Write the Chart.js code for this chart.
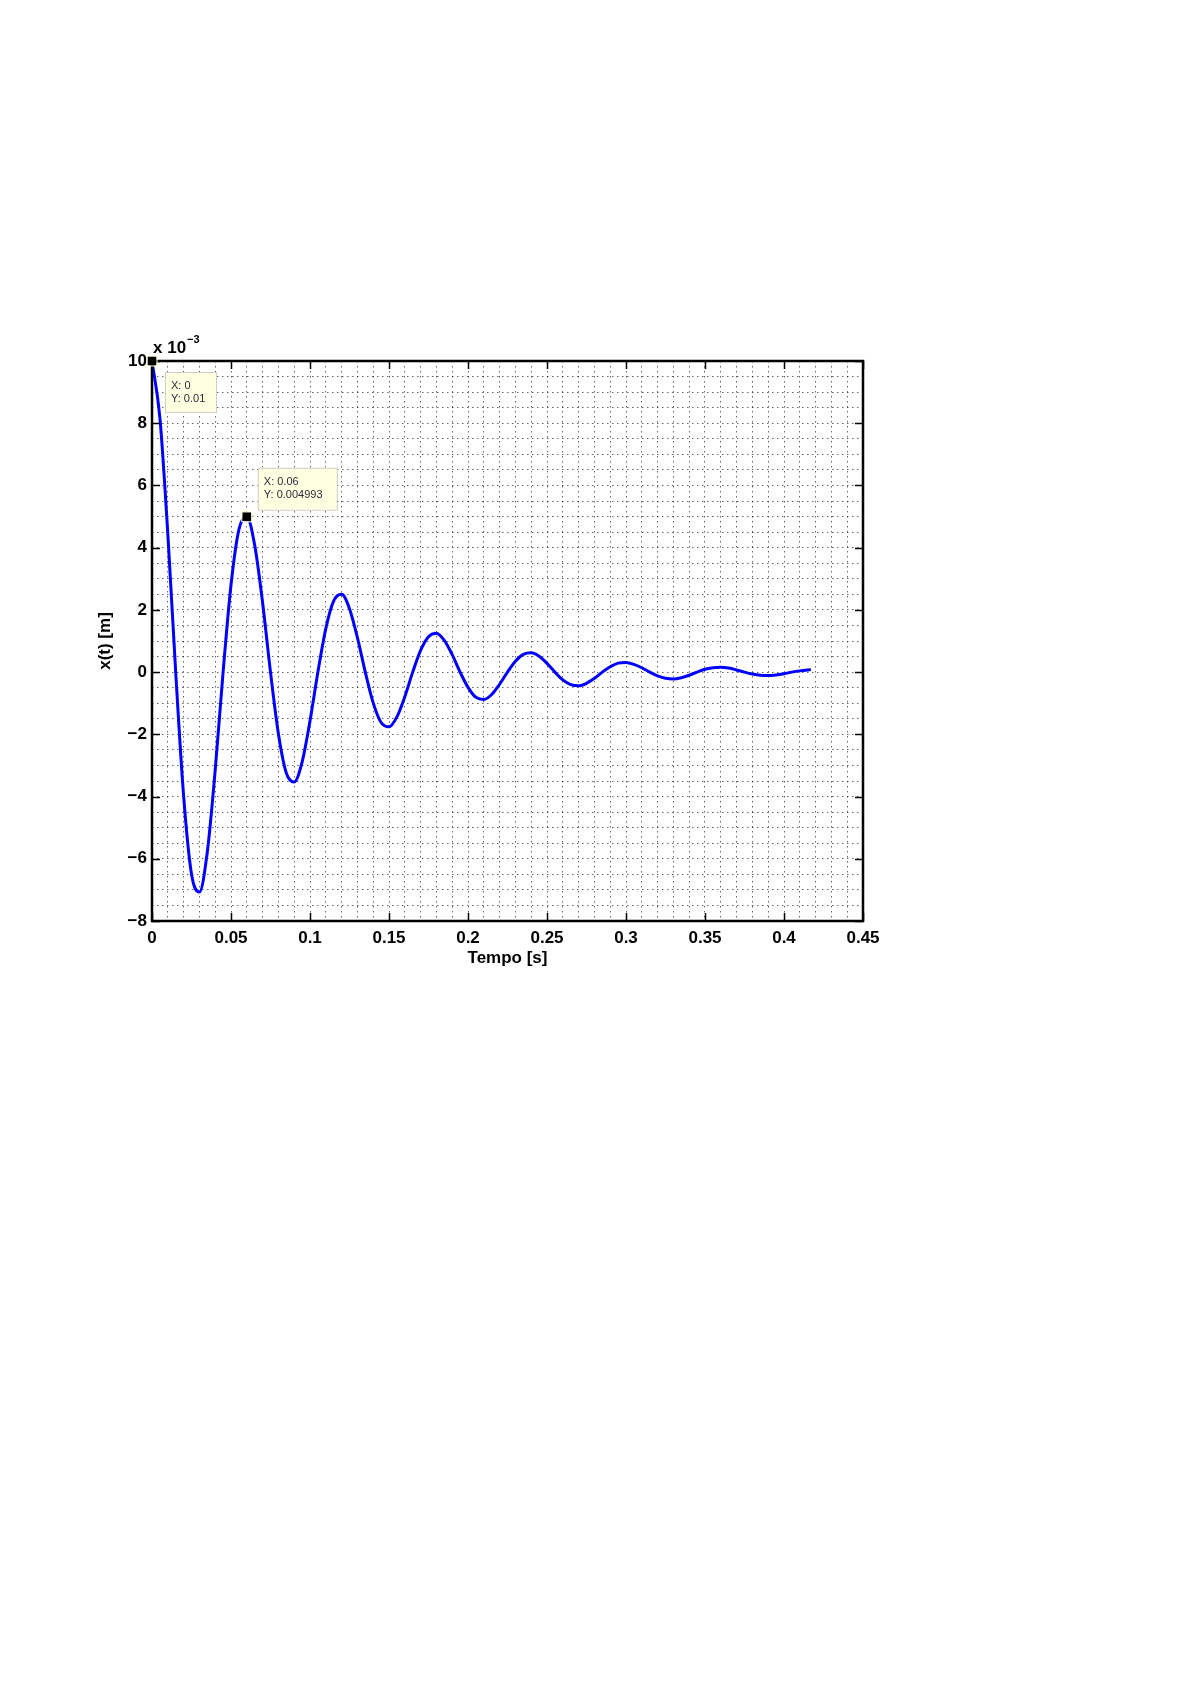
<!DOCTYPE html>
<html>
<head>
<meta charset="utf-8">
<script src="https://cdn.jsdelivr.net/npm/chart.js@4.4.1/dist/chart.umd.min.js"></script>
<style>
  html, body { margin: 0; padding: 0; background: #ffffff; }
  canvas { display: block; }
</style>
</head>
<body>
<canvas id="chart" width="1192" height="1685"></canvas>
<script>
// --- data (displacement in units of 1e-3 m) ---
const timeS = [
  0, 0.005, 0.01, 0.015, 0.02, 0.025, 0.03, 0.035, 0.04, 0.045,
  0.05, 0.055, 0.06, 0.065, 0.07, 0.075, 0.08, 0.085, 0.09, 0.095,
  0.1, 0.105, 0.11, 0.115, 0.12, 0.125, 0.13, 0.135, 0.14, 0.145,
  0.15, 0.155, 0.16, 0.165, 0.17, 0.175, 0.18, 0.185, 0.19, 0.195,
  0.2, 0.205, 0.21, 0.215, 0.22, 0.225, 0.23, 0.235, 0.24, 0.245,
  0.25, 0.255, 0.26, 0.265, 0.27, 0.275, 0.28, 0.285, 0.29, 0.295,
  0.3, 0.305, 0.31, 0.315, 0.32, 0.325, 0.33, 0.335, 0.34, 0.345,
  0.35, 0.355, 0.36, 0.365, 0.37, 0.375, 0.38, 0.385, 0.39, 0.395,
  0.4, 0.405, 0.41, 0.415, 0.417
];
const dispMM = [
  10.00, 8.17, 4.45, 0.00, -3.97, -6.49, -7.07, -5.78, -3.15, 0.00,
  2.80, 4.58, 4.993, 4.08, 2.23, 0.00, -1.98, -3.24, -3.53, -2.89,
  -1.57, 0.00, 1.40, 2.29, 2.50, 2.04, 1.11, 0.00, -0.99, -1.62,
  -1.76, -1.44, -0.79, 0.00, 0.70, 1.14, 1.25, 1.02, 0.56, 0.00,
  -0.49, -0.81, -0.88, -0.72, -0.39, 0.00, 0.35, 0.57, 0.62, 0.51,
  0.28, 0.00, -0.25, -0.40, -0.44, -0.36, -0.20, 0.00, 0.17, 0.29,
  0.31, 0.25, 0.14, 0.00, -0.12, -0.20, -0.22, -0.18, -0.10, 0.00,
  0.09, 0.14, 0.16, 0.13, 0.07, 0.00, -0.06, -0.10, -0.11, -0.09,
  -0.05, 0.00, 0.04, 0.07, 0.08
];

// data tips shown on the figure
const tipX = [0, 0.06];
const tipY = [10, 4.993];
const tipLines = [["X: 0", "Y: 0.01"], ["X: 0.06", "Y: 0.004993"]];

// axis ticks
const xMajorTicks = [0, 0.05, 0.1, 0.15, 0.2, 0.25, 0.3, 0.35, 0.4, 0.45];
const yMajorTicks = [-8, -6, -4, -2, 0, 2, 4, 6, 8, 10];

const FONT = "'Liberation Sans', Arial, Helvetica, sans-serif";

function isMajor(v, list) {
  return list.some(m => Math.abs(m - v) < 1e-7);
}

// frame, inward tick marks, exponent label and data tips
const matlabDecor = {
  id: 'matlabDecor',
  afterDraw(chart) {
    const ctx = chart.ctx;
    const area = chart.chartArea;
    const xs = chart.scales.x;
    const ys = chart.scales.y;
    const tick = 8;

    ctx.save();
    ctx.strokeStyle = '#000';
    ctx.lineWidth = 1.5;
    ctx.beginPath();
    xMajorTicks.forEach(v => {
      const px = Math.round(xs.getPixelForValue(v)) + 0.5;
      ctx.moveTo(px, area.bottom); ctx.lineTo(px, area.bottom - tick);
      ctx.moveTo(px, area.top); ctx.lineTo(px, area.top + tick);
    });
    yMajorTicks.forEach(v => {
      const py = Math.round(ys.getPixelForValue(v)) + 0.5;
      ctx.moveTo(area.left, py); ctx.lineTo(area.left + tick, py);
      ctx.moveTo(area.right, py); ctx.lineTo(area.right - tick, py);
    });
    ctx.stroke();

    // axes box
    ctx.lineWidth = 2.5;
    ctx.strokeRect(area.left, area.top, area.right - area.left, area.bottom - area.top);

    // exponent label
    ctx.fillStyle = '#000';
    ctx.textBaseline = 'alphabetic';
    ctx.textAlign = 'left';
    ctx.font = 'bold 17px ' + FONT;
    ctx.fillText('x 10', area.left + 1, area.top - 8);
    const w = ctx.measureText('x 10').width;
    ctx.font = 'bold 11px ' + FONT;
    ctx.fillText('\u22123', area.left + 2 + w, area.top - 18);

    // data tips
    const boxOffsets = [[13, 11, 51, 40], [11, -49, 79, 42]];
    tipX.forEach((tx, i) => {
      const px = xs.getPixelForValue(tx);
      const py = ys.getPixelForValue(tipY[i]);
      const [dx, dy, bw, bh] = boxOffsets[i];
      ctx.fillStyle = '#ffffe1';
      ctx.strokeStyle = '#cfcfc4';
      ctx.lineWidth = 1;
      ctx.fillRect(px + dx, py + dy, bw, bh);
      ctx.strokeRect(px + dx + 0.5, py + dy + 0.5, bw, bh);
      ctx.fillStyle = '#2a2a3a';
      ctx.font = '11px ' + FONT;
      ctx.textBaseline = 'middle';
      tipLines[i].forEach((s, k) => {
        ctx.fillText(s, px + dx + 6, py + dy + 14 + k * 13);
      });
      // marker
      ctx.fillStyle = '#000';
      ctx.fillRect(px - 4.5, py - 4.5, 9, 9);
      ctx.strokeStyle = '#ffffcc';
      ctx.strokeRect(px - 5, py - 5, 10, 10);
    });
    ctx.restore();
  }
};

const points = timeS.map((t, i) => ({ x: t, y: dispMM[i] }));

const gridStyle = {
  color: 'rgba(0,0,0,0.6)',
  lineWidth: 1,
  drawTicks: false
};

new Chart(document.getElementById('chart').getContext('2d'), {
  type: 'line',
  data: {
    datasets: [{
      data: points,
      borderColor: '#0000ff',
      borderWidth: 3,
      pointRadius: 0,
      fill: false,
      cubicInterpolationMode: 'monotone',
      clip: false
    }]
  },
  options: {
    responsive: false,
    animation: false,
    events: [],
    layout: { padding: { left: 91, top: 361, right: 329, bottom: 712 } },
    plugins: { legend: { display: false }, tooltip: { enabled: false } },
    scales: {
      x: {
        type: 'linear',
        min: 0,
        max: 0.45,
        afterFit: s => { s.height = 52; },
        grid: gridStyle,
        border: { display: false, dash: [1.5, 3.5] },
        ticks: {
          stepSize: 0.01,
          autoSkip: false,
          maxRotation: 0,
          padding: 7,
          color: '#000',
          font: { family: FONT, size: 17, weight: 'bold' },
          callback: v => isMajor(v, xMajorTicks) ? String(Number(v.toFixed(2))) : ''
        },
        title: {
          display: true,
          text: 'Tempo [s]',
          color: '#000',
          font: { family: FONT, size: 17, weight: 'bold' }
        }
      },
      y: {
        min: -8,
        max: 10,
        afterFit: s => { s.width = 61; },
        grid: gridStyle,
        border: { display: false, dash: [1.5, 3.5] },
        ticks: {
          stepSize: 0.5,
          autoSkip: false,
          padding: 5,
          color: '#000',
          font: { family: FONT, size: 17, weight: 'bold' },
          callback: v => isMajor(v, yMajorTicks) ? String(Math.round(v)).replace('-', '\u2212') : ''
        },
        title: {
          display: true,
          text: 'x(t) [m]',
          color: '#000',
          font: { family: FONT, size: 17, weight: 'bold' }
        }
      }
    }
  },
  plugins: [matlabDecor]
});
</script>
</body>
</html>
